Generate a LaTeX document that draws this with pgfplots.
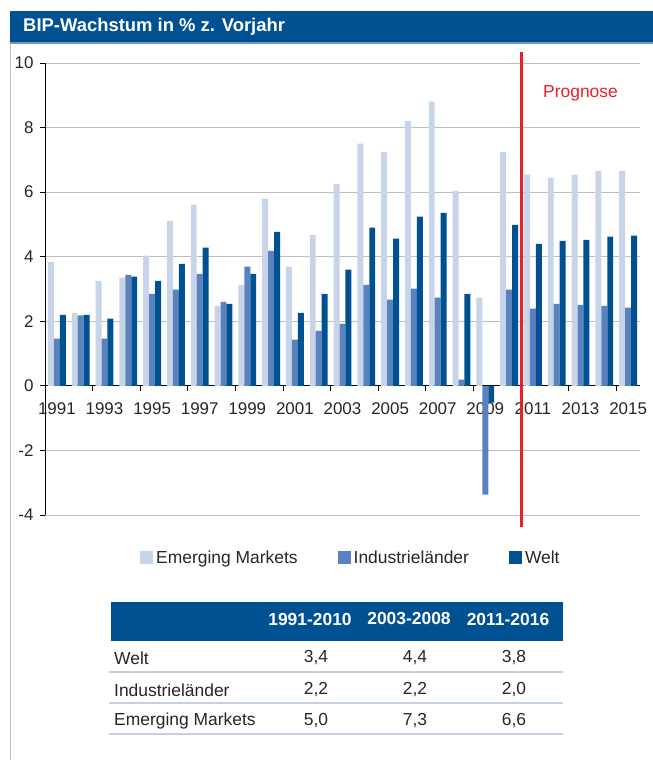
\documentclass[border=0pt]{standalone}
\usepackage{fontspec}
\setmainfont{Liberation Sans}
\usepackage{pgfplots}
\usepackage{pgfplotstable}
\pgfplotsset{compat=1.18}

\definecolor{emcol}{RGB}{200,212,232}
\definecolor{indcol}{RGB}{90,130,190}
\definecolor{weltcol}{RGB}{0,81,145}
\definecolor{gridcol}{RGB}{191,191,191}
\definecolor{txtcol}{RGB}{38,38,38}
\definecolor{progred}{RGB}{232,32,40}
\definecolor{sepcol}{RGB}{197,208,230}
\definecolor{barline}{RGB}{120,150,195}

% BIP-Wachstum in % z. Vorjahr
\pgfplotstableread{
year em   ind   welt
1991 3.84 1.46  2.20
1992 2.26 2.18  2.20
1993 3.25 1.46  2.08
1994 3.35 3.44  3.38
1995 4.03 2.85  3.25
1996 5.11 2.98  3.78
1997 5.61 3.47  4.28
1998 2.48 2.60  2.54
1999 3.13 3.69  3.47
2000 5.80 4.18  4.77
2001 3.69 1.43  2.26
2002 4.68 1.70  2.85
2003 6.26 1.92  3.60
2004 7.50 3.13  4.90
2005 7.25 2.67  4.56
2006 8.21 3.01  5.24
2007 8.80 2.73  5.36
2008 6.04 0.19  2.85
2009 2.73 -3.37 -0.52
2010 7.25 2.98  4.99
2011 6.54 2.39  4.40
2012 6.45 2.54  4.49
2013 6.54 2.51  4.52
2014 6.66 2.48  4.62
2015 6.66 2.42  4.65
}\bipdata

\newcommand{\fs}{\fontsize{17}{20}\selectfont}
\newcommand{\fl}{\fontsize{17.5}{20}\selectfont}

\begin{document}
\begin{tikzpicture}
\useasboundingbox (0,0) rectangle (653bp,-760bp);
% title bar and frame
\fill[weltcol] (10bp,-11bp) rectangle (653bp,-42bp);
\draw[barline, line width=1.5bp] (10bp,-43bp) -- (653bp,-43bp);
\node[anchor=west, text=white, font=\bfseries\fontsize{18.5}{20}\selectfont, inner sep=0pt] at (23bp,-27bp) {BIP-Wachstum in \% z. Vorjahr};
\draw[gridcol, line width=1bp] (10.5bp,-44bp) -- (10.5bp,-760bp);

\begin{axis}[
  at={(45bp,-515bp)}, anchor=south west,
  scale only axis, width=595bp, height=452bp,
  xmin=1990.5, xmax=2015.5, ymin=-4, ymax=10,
  clip=false,
  axis x line=middle, axis y line=left,
  axis line style={-, black, line width=0.8bp},
  hide obscured x ticks=false, hide obscured y ticks=false,
  tick align=outside, major tick length=5bp,
  tick style={black, line width=0.8bp},
  xtick={1992.5,1994.5,...,2014.5}, xticklabels={},
  extra x ticks={1991,1993,...,2015},
  extra x tick labels={1991,1993,1995,1997,1999,2001,2003,2005,2007,2009,2011,2013,2015},
  extra x tick style={major tick length=0pt, xticklabel style={yshift=-13bp}},
  ytick={-4,-2,...,10}, ymajorgrids,
  yticklabel style={xshift=-3bp},
  grid style={gridcol, line width=0.8bp},
  ticklabel style={font=\fs, text=txtcol},
  /pgf/number format/assume math mode=true,
  ybar, bar width=0.25,
  legend columns=3,
  legend cell align=left,
  legend image code/.code={\fill[#1] (0bp,-6.5bp) rectangle (13bp,6.5bp);},
  legend style={draw=none, fill=none, at={(axis description cs:0.1597,-0.0951)},
    anchor=west, font=\fl, text=txtcol, inner sep=0pt, nodes={inner sep=0pt},
    /tikz/every odd column/.append style={column sep=3bp},
    /tikz/every even column/.append style={column sep=40bp}},
]
\addplot[fill=emcol, draw=none, bar shift=-0.25] table[x=year, y=em] {\bipdata};
\addlegendentry{Emerging Markets}
\addplot[fill=indcol, draw=none, bar shift=0] table[x=year, y=ind] {\bipdata};
\addlegendentry{Industrieländer}
\addplot[fill=weltcol, draw=none, bar shift=0.25] table[x=year, y=welt] {\bipdata};
\addlegendentry{Welt}
\draw[progred, line width=3bp] (axis cs:2010.5,10.35) -- (axis cs:2010.5,-4.38);
\node[text=progred, font=\fl] at (axis cs:2013,9.07) {Prognose};
\end{axis}

% table below
\fill[weltcol] (111bp,-602bp) rectangle (563bp,-641bp);
\foreach \xx/\lab in {310/1991-2010, 409/2003-2008, 508/2011-2016}
  \node[text=white, font=\bfseries\fl] at (\xx bp,-619bp) {\lab};
\foreach \yy in {672,703,734}
  \draw[sepcol, line width=2.5bp] (109bp,-\yy bp) -- (563bp,-\yy bp);
\foreach \yy/\lab/\a/\b/\c in {658/Welt/{3,4}/{4,4}/{3,8},
                               690/Industrieländer/{2,2}/{2,2}/{2,0},
                               721/Emerging Markets/{5,0}/{7,3}/{6,6}} {
  \node[anchor=west, text=txtcol, font=\fl, inner sep=0pt] at (114bp,-\yy bp) {\lab};
  \node[text=txtcol, font=\fl] at (316bp,-\yy bp) {\a};
  \node[text=txtcol, font=\fl] at (415bp,-\yy bp) {\b};
  \node[text=txtcol, font=\fl] at (514bp,-\yy bp) {\c};
}
\end{tikzpicture}
\end{document}
